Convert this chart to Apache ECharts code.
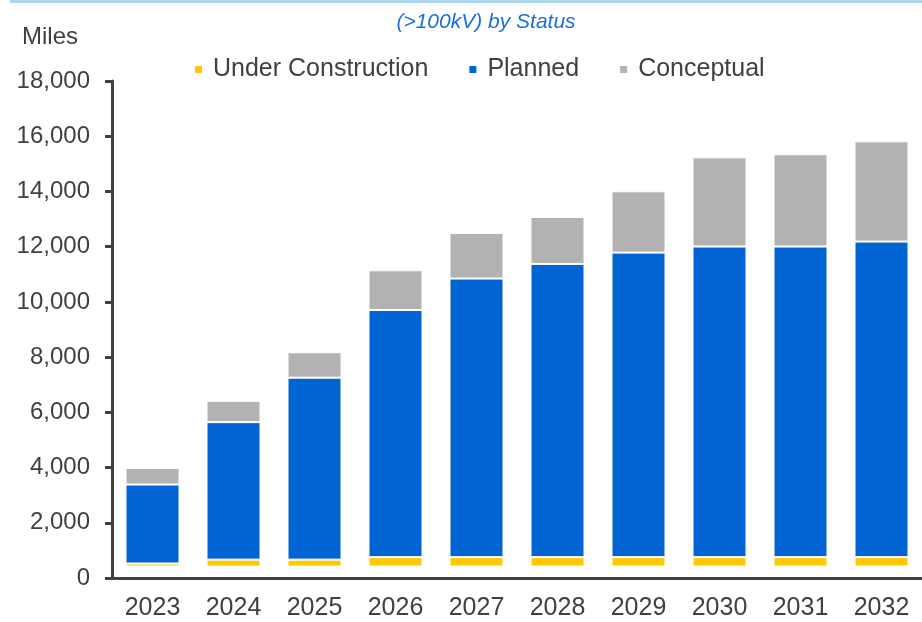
<!DOCTYPE html>
<html>
<head>
<meta charset="utf-8">
<script src="https://cdn.jsdelivr.net/npm/echarts@6/dist/echarts.min.js"></script>
<style>
  html, body { margin: 0; padding: 0; background: #fff; }
  #chart { width: 922px; height: 622px; }
</style>
</head>
<body>
<div id="chart"></div>
<script>
  // years on the x axis
  const years = ['2023', '2024', '2025', '2026', '2027', '2028', '2029', '2030', '2031', '2032']
  // bars in the source float a little above zero, this keeps that gap
  const baseGap = [415, 415, 415, 415, 415, 415, 415, 415, 415, 415]
  const underConstruction = [110, 250, 250, 340, 340, 340, 340, 340, 340, 340]
  const planned = [2860, 4980, 6590, 8950, 10090, 10620, 11030, 11250, 11250, 11430]
  const conceptual = [600, 770, 920, 1440, 1650, 1700, 2220, 3230, 3340, 3630]
  const yTicks = [0, 2000, 4000, 6000, 8000, 10000, 12000, 14000, 16000, 18000]

  const font = 'Liberation Sans, Arial, sans-serif'
  const textColor = '#404040'

  const myChart = echarts.init(document.getElementById('chart'))

  const barStyle = function (color) {
    return { color: color, borderColor: '#ffffff', borderWidth: 1 }
  }

  const option = {
    animation: false,
    textStyle: { fontFamily: font },
    title: {
      text: '(>100kV) by Status',
      left: 481,
      top: 7,
      textAlign: 'center',
      textStyle: { color: '#1b6fd8', fontSize: 21, fontStyle: 'italic', fontWeight: 'normal', fontFamily: font }
    },
    graphic: [
      {
        type: 'rect',
        shape: { x: 10, y: 0, width: 912, height: 3 },
        style: { fill: '#aed6ee' }
      },
      {
        type: 'text',
        left: 22,
        top: 25,
        style: { text: 'Miles', fontSize: 24, fill: textColor, fontFamily: font }
      }
    ],
    legend: {
      data: ['Under Construction', 'Planned', 'Conceptual'],
      left: 188,
      top: 52,
      itemWidth: 9,
      itemHeight: 9,
      itemGap: 39,
      icon: 'rect',
      textStyle: { fontSize: 25, color: textColor, fontFamily: font, padding: [0, 0, 0, 5] }
    },
    grid: { left: 112, right: -10, top: 81, bottom: 44, containLabel: false },
    xAxis: {
      type: 'category',
      data: years,
      axisLine: { lineStyle: { color: textColor, width: 3 } },
      axisTick: { show: false },
      axisLabel: { fontSize: 25, color: textColor, margin: 18, fontFamily: font }
    },
    yAxis: {
      type: 'value',
      min: yTicks[0],
      max: yTicks[yTicks.length - 1],
      interval: 2000,
      splitLine: { show: false },
      axisLine: { show: true, lineStyle: { color: textColor, width: 3 } },
      axisTick: { show: true, length: 7, lineStyle: { color: textColor, width: 3 } },
      axisLabel: {
        fontSize: 24,
        color: textColor,
        margin: 22,
        fontFamily: font,
        formatter: function (v) { return v.toLocaleString('en-US') }
      }
    },
    series: [
      {
        name: 'gap',
        type: 'bar',
        stack: 'all',
        barWidth: 54,
        data: baseGap,
        itemStyle: { color: 'transparent' },
        silent: true
      },
      {
        name: 'Under Construction',
        type: 'bar',
        stack: 'all',
        barWidth: 54,
        data: underConstruction,
        itemStyle: barStyle('#ffc800')
      },
      {
        name: 'Planned',
        type: 'bar',
        stack: 'all',
        barWidth: 54,
        data: planned,
        itemStyle: barStyle('#0064d2')
      },
      {
        name: 'Conceptual',
        type: 'bar',
        stack: 'all',
        barWidth: 54,
        data: conceptual,
        itemStyle: barStyle('#b2b2b2')
      }
    ]
  }

  myChart.setOption(option)
</script>
</body>
</html>
